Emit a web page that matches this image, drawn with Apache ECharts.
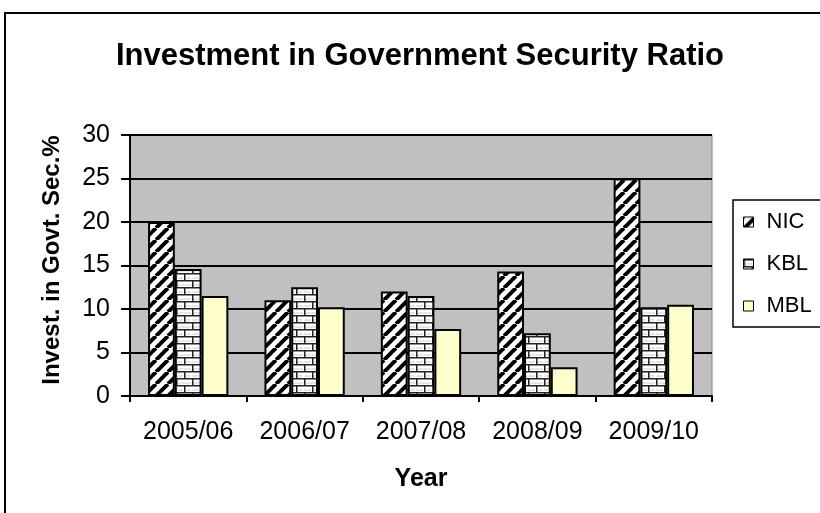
<!DOCTYPE html>
<html>
<head>
<meta charset="utf-8">
<script src="https://cdn.jsdelivr.net/npm/echarts@6/dist/echarts.min.js"></script>
<style>
  html, body { margin: 0; padding: 0; background: #fff; }
  #chart { width: 820px; height: 513px; }
</style>
</head>
<body>
<div id="chart"></div>
<script>
// Fiscal years on the category axis
const years = ['2005/06', '2006/07', '2007/08', '2008/09', '2009/10'];

// Investment in government securities (% of deposits) per bank
const nic = [20, 11, 12, 14.3, 25];
const kbl = [14.6, 12.5, 11.5, 7.2, 10.2];
const mbl = [11.5, 10.2, 7.7, 3.3, 10.5];

// Value axis ticks
const yTicks = [0, 5, 10, 15, 20, 25, 30];

// Diagonal hatch fill ("/" stripes)
function hatchPattern() {
  const s = 12;
  const c = document.createElement('canvas');
  c.width = s; c.height = s;
  const g = c.getContext('2d');
  g.fillStyle = '#fff';
  g.fillRect(0, 0, s, s);
  g.strokeStyle = '#000';
  g.lineWidth = 4;
  g.beginPath();
  for (let k = -1; k <= 1; k++) {
    g.moveTo(k * s, s);
    g.lineTo(k * s + s, 0);
  }
  g.stroke();
  return c;
}

// Brick wall fill
function brickPattern() {
  const w = 16, h = 14;
  const c = document.createElement('canvas');
  c.width = w; c.height = h;
  const g = c.getContext('2d');
  g.fillStyle = '#fff';
  g.fillRect(0, 0, w, h);
  g.fillStyle = '#e6e6e6';
  g.fillRect(1, 4, w - 2, 2);
  g.fillRect(9, 11, w - 10, 2);
  g.fillRect(0, 11, 7, 2);
  g.fillStyle = '#222';
  g.fillRect(0, 0, w, 1.5);
  g.fillRect(0, 7, w, 1.5);
  g.fillRect(0, 0, 1.5, 7);
  g.fillRect(8, 7, 1.5, 7);
  return c;
}

const chart = echarts.init(document.getElementById('chart'), null, { renderer: 'canvas' });

const font = 'Liberation Sans, Arial, sans-serif';

function barSeries(name, data, color) {
  return {
    name: name,
    type: 'bar',
    data: data,
    barGap: '0%',
    barCategoryGap: '31%',
    itemStyle: { color: color, borderColor: '#000', borderWidth: 2 },
    emphasis: { disabled: true }
  };
}

chart.setOption({
  animation: false,
  backgroundColor: '#fff',
  title: {
    text: 'Investment in Government Security Ratio',
    left: 420,
    top: 41,
    padding: 0,
    textAlign: 'center',
    textStyle: { fontFamily: font, fontSize: 31, fontWeight: 'bold', color: '#000' }
  },
  grid: {
    left: 130, right: 108, top: 135, bottom: 117,
    show: true, backgroundColor: '#c0c0c0', borderColor: '#808080', borderWidth: 1
  },
  legend: {
    orient: 'vertical',
    left: 743,
    top: 211,
    padding: 0,
    itemWidth: 10,
    itemHeight: 10,
    itemGap: 20,
    icon: 'rect',
    itemStyle: { borderColor: '#000', borderWidth: 1 },
    textStyle: { fontFamily: font, fontSize: 22, lineHeight: 22, color: '#000', padding: [0, 0, 0, 8] },
    data: ['NIC', 'KBL', 'MBL']
  },
  xAxis: {
    type: 'category',
    data: years,
    name: 'Year',
    nameLocation: 'middle',
    nameGap: 71,
    nameTextStyle: { fontFamily: font, fontSize: 25, fontWeight: 'bold', color: '#000' },
    axisLine: { lineStyle: { color: '#000', width: 2 } },
    axisTick: { show: true, length: 6, lineStyle: { color: '#000', width: 2 } },
    axisLabel: { interval: 0, fontFamily: font, fontSize: 25, color: '#000', margin: 24 },
    splitLine: { show: false }
  },
  yAxis: {
    type: 'value',
    min: yTicks[0],
    max: yTicks[yTicks.length - 1],
    interval: yTicks[1] - yTicks[0],
    axisLine: { show: true, lineStyle: { color: '#000', width: 2 } },
    axisTick: { show: true, length: 9, lineStyle: { color: '#000', width: 2 } },
    axisLabel: { fontFamily: font, fontSize: 25, color: '#000', margin: 20 },
    splitLine: { show: true, lineStyle: { color: '#000', width: 2 } }
  },
  series: [
    barSeries('NIC', nic, { image: hatchPattern(), repeat: 'repeat' }),
    barSeries('KBL', kbl, { image: brickPattern(), repeat: 'repeat' }),
    barSeries('MBL', mbl, '#ffffcc')
  ],
  graphic: [
    {
      // outer chart frame
      type: 'rect',
      shape: { x: 5, y: 13, width: 900, height: 600 },
      style: { fill: null, stroke: '#000', lineWidth: 2 },
      silent: true
    },
    {
      // legend frame
      type: 'rect',
      shape: { x: 733, y: 200, width: 120, height: 127 },
      style: { fill: null, stroke: '#000', lineWidth: 1.5 },
      silent: true,
      z: 10
    },
    {
      // value axis title
      type: 'text',
      x: 52,
      y: 260,
      rotation: Math.PI / 2,
      style: {
        text: 'Invest. in Govt. Sec.%',
        font: 'bold 24px Liberation Sans, Arial, sans-serif',
        fill: '#000',
        align: 'center',
        verticalAlign: 'middle'
      },
      silent: true
    }
  ]
});
</script>
</body>
</html>
